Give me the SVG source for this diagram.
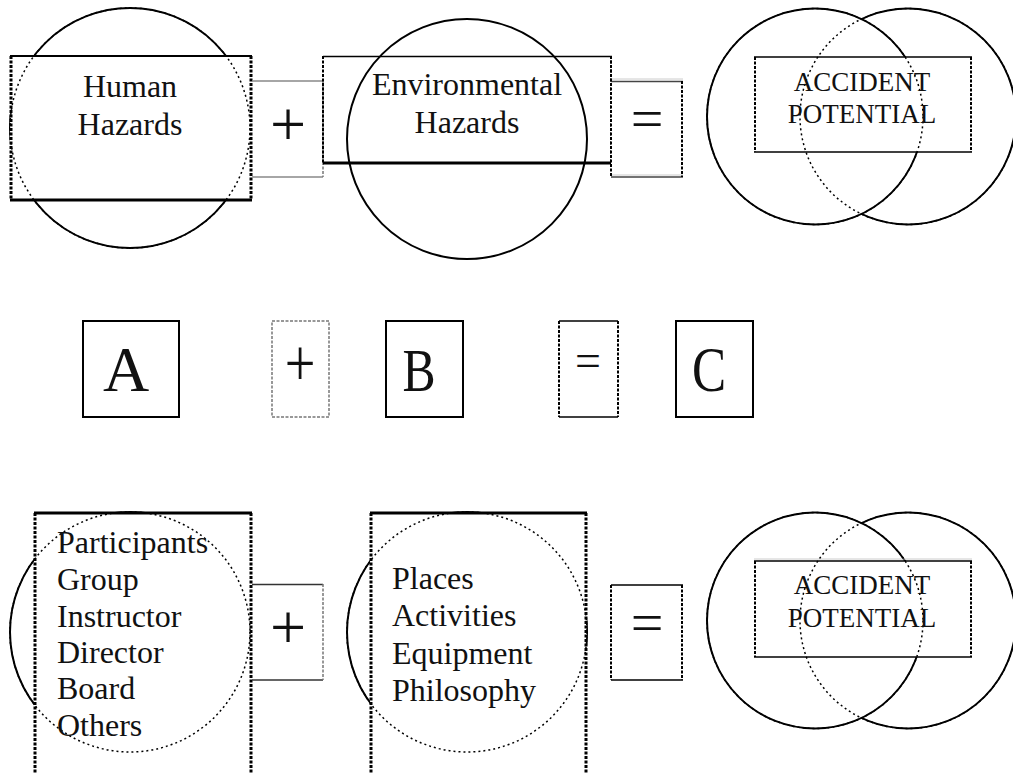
<svg xmlns="http://www.w3.org/2000/svg" width="1013" height="774" viewBox="0 0 1013 774">
<style>
text{font-family:"Liberation Serif","Times New Roman",serif;fill:#111}
.lbl{font-size:32px}
.acc{font-size:27px;text-anchor:middle}
.mid{text-anchor:middle}
.solid{fill:none;stroke:#000;stroke-width:2}
.wfill{fill:#fff;stroke:#000;stroke-width:2}
.dot{fill:none;stroke:#000;stroke-width:1.5;stroke-dasharray:2 3}
.side{stroke:#000;stroke-width:3;stroke-dasharray:3 1.5;fill:none}
.thin{stroke:#000;stroke-width:1.5;fill:none}
.thick{stroke:#000;stroke-width:3;fill:none}
.gray{stroke:#888;stroke-width:1.5;fill:none}
.graydash{stroke:#777;stroke-width:1.5;stroke-dasharray:3 1.5;fill:none}
.box{fill:#fff;stroke:#000;stroke-width:2}
</style>
<rect width="1013" height="774" fill="#fff"/>

<!-- Top row -->
<g id="human-hazards">
  <circle class="wfill" cx="130" cy="128" r="120"/>
  <rect x="10" y="56" width="242" height="144" fill="#fff"/>
  <circle class="dot" cx="130" cy="128" r="120"/>
  <line class="thick" x1="10" y1="56" x2="252" y2="56" style="stroke-width:2"/>
  <line class="thick" x1="10" y1="200" x2="252" y2="200"/>
  <line class="side" x1="11" y1="56" x2="11" y2="200"/>
  <line class="side" x1="251" y1="56" x2="251" y2="200"/>
  <text class="lbl mid" x="130" y="97">Human</text>
  <text class="lbl mid" x="130" y="135">Hazards</text>
</g>

<g id="plus-top">
  <line class="gray" x1="252" y1="81" x2="323" y2="81"/>
  <line class="gray" x1="252" y1="177" x2="323" y2="177"/>
  <line class="graydash" x1="323" y1="81" x2="323" y2="177"/>
  <text class="mid" x="288" y="146" font-size="64">+</text>
</g>

<g id="environmental-hazards">
  <line class="thin" x1="323" y1="56.5" x2="612" y2="56.5"/>
  <line class="thick" x1="323" y1="163" x2="612" y2="163"/>
  <line class="side" x1="323" y1="56" x2="323" y2="163" style="stroke-width:2"/>
  <line class="side" x1="611" y1="56" x2="611" y2="163" style="stroke-width:2"/>
  <circle class="solid" cx="467" cy="139" r="120"/>
  <text class="lbl mid" x="467" y="95">Environmental</text>
  <text class="lbl mid" x="467" y="133">Hazards</text>
</g>

<g id="equals-top">
  <rect x="611" y="81" width="72" height="96" fill="#fff"/>
  <line stroke="#ccc" stroke-width="1" x1="611" y1="79" x2="683" y2="79"/>
  <line class="thin" stroke="#444" x1="611" y1="81.5" x2="683" y2="81.5" style="stroke:#444"/>
  <line class="thin" x1="611" y1="177" x2="683" y2="177" style="stroke:#444"/>
  <line stroke="#ccc" stroke-width="1" x1="611" y1="175" x2="683" y2="175"/>
  <line class="side" x1="611" y1="56" x2="611" y2="177" style="stroke-width:2"/>
  <line class="side" x1="682" y1="81" x2="682" y2="177" style="stroke-width:2"/>
  <text class="mid" x="647" y="138" font-size="58">=</text>
</g>

<g id="accident-potential-top">
  <circle class="wfill" cx="908" cy="116.5" r="108"/>
  <circle class="wfill" cx="815" cy="116.5" r="108"/>
  <rect x="754" y="57" width="218" height="95" fill="#fff"/>
  <line class="thin" x1="754" y1="57" x2="972" y2="57"/>
  <line class="thin" x1="754" y1="152" x2="972" y2="152"/>
  <line class="side" x1="755" y1="57" x2="755" y2="152" style="stroke-width:2"/>
  <line class="side" x1="971" y1="57" x2="971" y2="152" style="stroke-width:2"/>
  <circle class="dot" cx="908" cy="116.5" r="108"/>
  <circle class="dot" cx="815" cy="116.5" r="108"/>
  <text class="acc" x="862" y="91">ACCIDENT</text>
  <text class="acc" x="862" y="123">POTENTIAL</text>
</g>

<!-- Middle row -->
<g id="box-a">
  <rect class="box" x="83" y="321" width="96" height="96"/>
  <text class="mid" x="126" y="391" font-size="64">A</text>
</g>
<g id="plus-mid">
  <rect class="graydash" x="272" y="321" width="57" height="96" style="stroke-width:1.5"/>
  <text class="mid" transform="translate(300,386) scale(0.8,1)" font-size="68">+</text>
</g>
<g id="box-b">
  <rect class="box" x="386" y="321" width="77" height="96"/>
  <text class="mid" transform="translate(419,391) scale(0.8,1)" font-size="62">B</text>
</g>
<g id="equals-mid">
  <line class="thin" x1="559" y1="321" x2="618" y2="321"/>
  <line class="thin" x1="559" y1="417" x2="618" y2="417"/>
  <line class="side" x1="559" y1="321" x2="559" y2="417" style="stroke-width:2"/>
  <line class="side" x1="618" y1="321" x2="618" y2="417" style="stroke-width:2"/>
  <text class="mid" x="588" y="376" font-size="46">=</text>
</g>
<g id="box-c">
  <rect class="box" x="676" y="321" width="77" height="96"/>
  <text class="mid" transform="translate(709,391) scale(0.8,1)" font-size="64">C</text>
</g>

<!-- Bottom row -->
<g id="human-list">
  <circle class="wfill" cx="130" cy="632" r="120"/>
  <rect x="34" y="513" width="218" height="262" fill="#fff"/>
  <circle class="dot" cx="130" cy="632" r="120"/>
  <line class="thick" x1="34" y1="513" x2="252" y2="513"/>
  <line class="side" x1="35" y1="513" x2="35" y2="774"/>
  <line class="side" x1="251" y1="513" x2="251" y2="774"/>
  <text class="lbl" x="57" y="553">Participants</text>
  <text class="lbl" x="57" y="590">Group</text>
  <text class="lbl" x="57" y="627">Instructor</text>
  <text class="lbl" x="57" y="663">Director</text>
  <text class="lbl" x="57" y="699">Board</text>
  <text class="lbl" x="57" y="736">Others</text>
</g>

<g id="plus-bottom">
  <line class="thin" x1="252" y1="584.5" x2="323" y2="584.5" style="stroke:#333"/>
  <line class="thin" x1="252" y1="680" x2="323" y2="680" style="stroke:#333"/>
  <line class="graydash" x1="323" y1="584" x2="323" y2="680"/>
  <text class="mid" x="288" y="649" font-size="64">+</text>
</g>

<g id="environment-list">
  <circle class="wfill" cx="467" cy="632" r="120"/>
  <rect x="370" y="513" width="217" height="262" fill="#fff"/>
  <circle class="dot" cx="467" cy="632" r="120"/>
  <line class="thick" x1="370" y1="513" x2="587" y2="513"/>
  <line class="side" x1="371" y1="513" x2="371" y2="774"/>
  <line class="side" x1="586" y1="513" x2="586" y2="774"/>
  <text class="lbl" x="392" y="589">Places</text>
  <text class="lbl" x="392" y="626">Activities</text>
  <text class="lbl" x="392" y="664">Equipment</text>
  <text class="lbl" x="392" y="701">Philosophy</text>
</g>

<g id="equals-bottom">
  <line class="thin" x1="611" y1="585" x2="683" y2="585"/>
  <line class="thin" x1="611" y1="680" x2="683" y2="680"/>
  <line class="side" x1="611" y1="585" x2="611" y2="680" style="stroke-width:2"/>
  <line class="side" x1="682" y1="585" x2="682" y2="680" style="stroke-width:2"/>
  <text class="mid" x="647" y="642" font-size="58">=</text>
</g>

<g id="accident-potential-bottom">
  <circle class="wfill" cx="908" cy="620.5" r="108"/>
  <circle class="wfill" cx="815" cy="620.5" r="108"/>
  <rect x="754" y="561" width="218" height="96" fill="#fff"/>
  <line stroke="#ccc" stroke-width="1" x1="754" y1="559" x2="972" y2="559"/>
  <line class="thin" x1="754" y1="561" x2="972" y2="561"/>
  <line class="thin" x1="754" y1="657" x2="972" y2="657"/>
  <line class="side" x1="755" y1="561" x2="755" y2="657" style="stroke-width:2"/>
  <line class="side" x1="971" y1="561" x2="971" y2="657" style="stroke-width:2"/>
  <circle class="dot" cx="908" cy="620.5" r="108"/>
  <circle class="dot" cx="815" cy="620.5" r="108"/>
  <text class="acc" x="862" y="594">ACCIDENT</text>
  <text class="acc" x="862" y="627">POTENTIAL</text>
</g>

<g id="connectors"></g>
</svg>
